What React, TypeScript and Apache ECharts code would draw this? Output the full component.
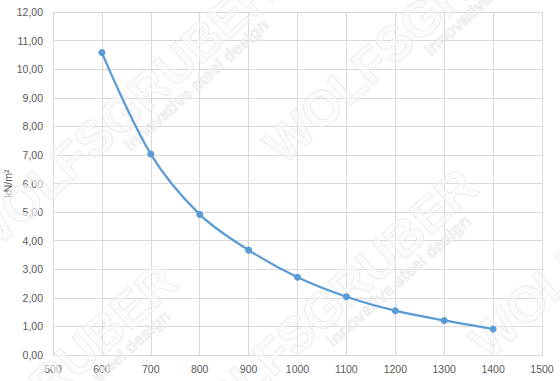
import React, { useEffect, useRef } from "react";
import * as echarts from "echarts";

const xValues = [600, 700, 800, 900, 1000, 1100, 1200, 1300, 1400];
const loadValues = [10.58, 7.03, 4.92, 3.67, 2.72, 2.04, 1.55, 1.21, 0.91];
const yAxisName = "kN/m²";
const watermarkTitle = "WOLFSGRUBER";
const watermarkSub = "innovative steel design";

const WM_CENTERS: [number, number][] = [
  [120, 115],
  [420, 20],
  [322, 311],
  [22, 406],
  [625, 216],
];

const fmt = (v: number) => v.toFixed(2).replace(".", ",");

export default function App() {
  const ref = useRef<HTMLDivElement>(null);
  useEffect(() => {
    if (!ref.current) return;
    const chart = echarts.init(ref.current, undefined, { renderer: "svg" });
    const angle = (42 * Math.PI) / 180;
    const wm = WM_CENTERS.map(([x, y]) => ({
      type: "group",
      x,
      y,
      rotation: angle,
      silent: true,
      z: 1,
      children: [
        {
          type: "text",
          x: 0,
          y: 0,
          z: 1,
          style: {
            text: watermarkTitle,
            font: 'bold 50px "Liberation Sans"',
            fill: "rgba(248,248,248,0.6)",
            stroke: "#e2e2e2",
            lineWidth: 0.8,
            align: "center",
            verticalAlign: "middle",
            textAlign: "center",
            textVerticalAlign: "middle",
          },
        },
        {
          type: "text",
          x: 77,
          y: 29,
          z: 1,
          style: {
            text: watermarkSub,
            font: 'bold 17px "Liberation Sans"',
            fill: "rgba(240,240,240,0.8)",
            stroke: "#e2e2e2",
            lineWidth: 0.5,
            align: "center",
            verticalAlign: "middle",
            textAlign: "center",
            textVerticalAlign: "middle",
          },
        },
      ],
    }));
    chart.setOption({
      animation: false,
      backgroundColor: "#ffffff",
      grid: {
        left: 53,
        right: 18,
        top: 12,
        bottom: 26,
        containLabel: false,
        outerBoundsMode: "none",
      },
      xAxis: {
        type: "value",
        min: 500,
        max: 1500,
        interval: 100,
        axisLine: { show: true, lineStyle: { color: "#d9d9d9", width: 1 } },
        axisTick: { show: false },
        splitLine: { show: true, lineStyle: { color: "#d9d9d9", width: 1 } },
        axisLabel: {
          color: "#595959",
          fontSize: 10.5,
          fontFamily: '"Liberation Sans", Arial, sans-serif',
          margin: 8,
          formatter: (v: number) => String(v),
        },
      },
      yAxis: {
        type: "value",
        min: 0,
        max: 12,
        interval: 1,
        name: yAxisName,
        nameLocation: "middle",
        nameGap: 40,
        nameRotate: 90,
        nameMoveOverlap: false,
        nameTextStyle: {
          color: "#595959",
          fontSize: 10.5,
          fontFamily: '"Liberation Sans", Arial, sans-serif',
        },
        axisLine: { show: true, lineStyle: { color: "#d9d9d9", width: 1 } },
        axisTick: { show: false },
        splitLine: { show: true, lineStyle: { color: "#d9d9d9", width: 1 } },
        axisLabel: {
          color: "#595959",
          fontSize: 10.5,
          fontFamily: '"Liberation Sans", Arial, sans-serif',
          margin: 10,
          formatter: (v: number) => fmt(v),
        },
      },
      graphic: { elements: wm },
      series: [
        {
          type: "line",
          data: xValues.map((x, i) => [x, loadValues[i]]),
          smooth: 0.35,
          symbol: "circle",
          symbolSize: 7,
          z: 3,
          lineStyle: { color: "#5b9bd5", width: 2.25 },
          itemStyle: { color: "#5b9bd5" },
        },
      ],
    });
    return () => chart.dispose();
  }, []);
  return <div ref={ref} style={{ width: 560, height: 381, position: "absolute", left: 0, top: 0 }} />;
}
